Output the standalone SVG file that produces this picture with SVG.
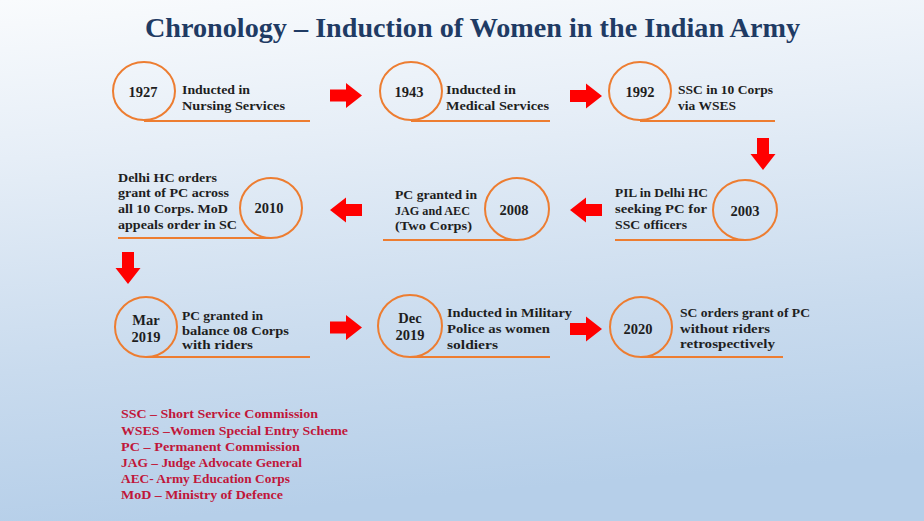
<svg xmlns="http://www.w3.org/2000/svg" width="924" height="521" viewBox="0 0 924 521">
<defs>
<linearGradient id="bg" x1="0" y1="0" x2="0.15" y2="1">
<stop offset="0" stop-color="#F9FBFD"/>
<stop offset="0.3" stop-color="#E6EEF7"/>
<stop offset="0.7" stop-color="#C9DBEE"/>
<stop offset="1" stop-color="#B6CFE9"/>
</linearGradient>
<path id="arr" d="M0,-6 H16 V-12.5 L32,0 L16,12.5 V6 H0 Z"/>
<style>
.c{fill:none;stroke:#ED7D31;stroke-width:2}
.u{stroke:#ED7D31;stroke-width:2.2}
.t{font-family:"Liberation Serif","Times New Roman",serif;font-weight:bold;font-size:13.5px;fill:#1E1E1E}
.y{font-family:"Liberation Serif","Times New Roman",serif;font-weight:bold;font-size:14.5px;fill:#1E1E1E;text-anchor:middle}
.l{font-family:"Liberation Serif","Times New Roman",serif;font-weight:bold;font-size:13.5px;fill:#C0163A}
.a{fill:#FF0000}
</style>
</defs>
<rect width="924" height="521" fill="url(#bg)"/>
<text x="145" y="37" font-family="'Liberation Serif','Times New Roman',serif" font-weight="bold" font-size="28" fill="#1F3B64" textLength="655" lengthAdjust="spacingAndGlyphs">Chronology  – Induction of Women in the Indian Army</text>

<g id="n1927">
<line class="u" x1="144" y1="121" x2="310" y2="121"/>
<ellipse class="c" cx="144" cy="91" rx="31" ry="29"/>
<text class="y" x="143" y="97">1927</text>
<text class="t" x="182" y="94" textLength="68" lengthAdjust="spacingAndGlyphs">Inducted in</text>
<text class="t" x="182" y="110" textLength="103" lengthAdjust="spacingAndGlyphs">Nursing Services</text>
</g>
<g id="n1943">
<line class="u" x1="411" y1="121" x2="550" y2="121"/>
<ellipse class="c" cx="411" cy="91" rx="31" ry="29"/>
<text class="y" x="409" y="97">1943</text>
<text class="t" x="446" y="94" textLength="70" lengthAdjust="spacingAndGlyphs">Inducted in</text>
<text class="t" x="446" y="110" textLength="103" lengthAdjust="spacingAndGlyphs">Medical Services</text>
</g>
<g id="n1992">
<line class="u" x1="640" y1="121" x2="775" y2="121"/>
<ellipse class="c" cx="640" cy="91" rx="31" ry="29"/>
<text class="y" x="640" y="97">1992</text>
<text class="t" x="678" y="94" textLength="95" lengthAdjust="spacingAndGlyphs">SSC in 10 Corps</text>
<text class="t" x="678" y="110" textLength="58" lengthAdjust="spacingAndGlyphs">via WSES</text>
</g>
<g id="n2003">
<line class="u" x1="615" y1="240" x2="745" y2="240"/>
<ellipse class="c" cx="745" cy="210" rx="32" ry="30"/>
<text class="y" x="745" y="216">2003</text>
<text class="t" x="615" y="197" textLength="93" lengthAdjust="spacingAndGlyphs">PIL in Delhi HC</text>
<text class="t" x="615" y="213" textLength="92" lengthAdjust="spacingAndGlyphs">seeking PC  for</text>
<text class="t" x="615" y="229" textLength="72" lengthAdjust="spacingAndGlyphs">SSC officers</text>
</g>
<g id="n2008">
<line class="u" x1="383" y1="240" x2="517" y2="240"/>
<ellipse class="c" cx="517" cy="209" rx="32" ry="31"/>
<text class="y" x="514" y="215">2008</text>
<text class="t" x="395" y="199" textLength="82" lengthAdjust="spacingAndGlyphs">PC granted in</text>
<text class="t" x="395" y="215" textLength="75" lengthAdjust="spacingAndGlyphs">JAG and AEC</text>
<text class="t" x="395" y="230" textLength="77" lengthAdjust="spacingAndGlyphs">(Two Corps)</text>
</g>
<g id="n2010">
<line class="u" x1="118" y1="238" x2="271" y2="238"/>
<ellipse class="c" cx="271" cy="208" rx="31" ry="30"/>
<text class="y" x="269" y="213">2010</text>
<text class="t" x="118" y="182" textLength="99" lengthAdjust="spacingAndGlyphs">Delhi HC orders</text>
<text class="t" x="118" y="197" textLength="111" lengthAdjust="spacingAndGlyphs">grant of PC across</text>
<text class="t" x="118" y="213" textLength="110" lengthAdjust="spacingAndGlyphs">all 10 Corps. MoD</text>
<text class="t" x="118" y="229" textLength="119" lengthAdjust="spacingAndGlyphs">appeals order in SC</text>
</g>
<g id="nMar2019">
<line class="u" x1="146" y1="357" x2="310" y2="357"/>
<ellipse class="c" cx="146" cy="327" rx="31" ry="30"/>
<text class="y" x="146" y="325">Mar</text>
<text class="y" x="146" y="342">2019</text>
<text class="t" x="182" y="320" textLength="81" lengthAdjust="spacingAndGlyphs">PC granted in</text>
<text class="t" x="182" y="335" textLength="107" lengthAdjust="spacingAndGlyphs">balance 08 Corps</text>
<text class="t" x="182" y="349" textLength="71" lengthAdjust="spacingAndGlyphs">with riders</text>
</g>
<g id="nDec2019">
<line class="u" x1="410" y1="357" x2="550" y2="357"/>
<ellipse class="c" cx="410" cy="326" rx="32" ry="31"/>
<text class="y" x="410" y="323">Dec</text>
<text class="y" x="410" y="340">2019</text>
<text class="t" x="447" y="317" textLength="125" lengthAdjust="spacingAndGlyphs">Inducted in Military</text>
<text class="t" x="447" y="333" textLength="103" lengthAdjust="spacingAndGlyphs">Police as women</text>
<text class="t" x="447" y="349" textLength="51" lengthAdjust="spacingAndGlyphs">soldiers</text>
</g>
<g id="n2020">
<line class="u" x1="641" y1="357" x2="783" y2="357"/>
<ellipse class="c" cx="641" cy="327" rx="31" ry="30"/>
<text class="y" x="638" y="334">2020</text>
<text class="t" x="680" y="317" textLength="130" lengthAdjust="spacingAndGlyphs">SC orders grant of PC</text>
<text class="t" x="680" y="333" textLength="90" lengthAdjust="spacingAndGlyphs">without riders</text>
<text class="t" x="680" y="348" textLength="95" lengthAdjust="spacingAndGlyphs">retrospectively</text>
</g>

<g id="connectors">
<use href="#arr" class="a" transform="translate(330,95.5)"/>
<use href="#arr" class="a" transform="translate(570,96)"/>
<use href="#arr" class="a" transform="translate(763,138) rotate(90)"/>
<use href="#arr" class="a" transform="translate(602,210) rotate(180)"/>
<use href="#arr" class="a" transform="translate(362,210) rotate(180)"/>
<use href="#arr" class="a" transform="translate(128,252) rotate(90)"/>
<use href="#arr" class="a" transform="translate(330,327.5)"/>
<use href="#arr" class="a" transform="translate(570,329)"/>
</g>

<g id="legend">
<text class="l" x="121" y="418" textLength="197" lengthAdjust="spacingAndGlyphs">SSC – Short Service Commission</text>
<text class="l" x="121" y="435" textLength="227" lengthAdjust="spacingAndGlyphs">WSES –Women Special Entry Scheme</text>
<text class="l" x="121" y="451" textLength="179" lengthAdjust="spacingAndGlyphs">PC – Permanent Commission</text>
<text class="l" x="121" y="467" textLength="181" lengthAdjust="spacingAndGlyphs">JAG – Judge Advocate General</text>
<text class="l" x="121" y="483" textLength="169" lengthAdjust="spacingAndGlyphs">AEC- Army Education Corps</text>
<text class="l" x="121" y="499" textLength="162" lengthAdjust="spacingAndGlyphs">MoD – Ministry of Defence</text>
</g>
</svg>
